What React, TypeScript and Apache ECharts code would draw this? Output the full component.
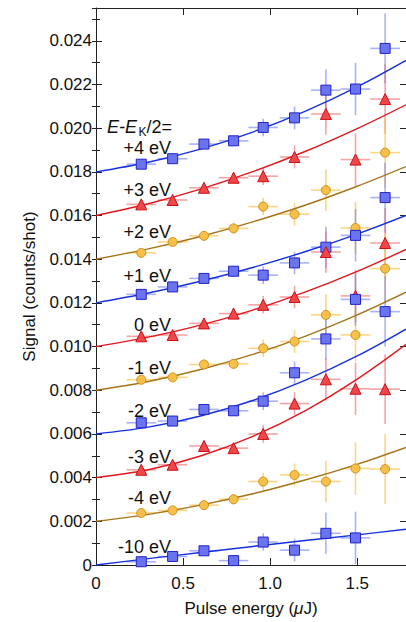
import React, { useEffect, useRef } from "react";
import * as echarts from "echarts";

const FONT = '"Liberation Sans", Arial, Helvetica, sans-serif';

// Pulse energy (µJ) of the measured points
const xPos = [0.26, 0.44, 0.62, 0.79, 0.96, 1.14, 1.32, 1.49, 1.66];
const xErr = 0.085;
// vertical error bars (×10⁻³ counts/shot)
const yErr = [0.12, 0.14, 0.18, 0.24, 0.4, 0.52, 0.95, 1.2, 1.6];

// Signal values (×10⁻³ counts/shot), offset traces
const sigP4 = [18.35, 18.6, 19.27, 19.42, 20.03, 20.47, 21.74, 21.79, 23.65];
const sigP3 = [16.51, 16.71, 17.27, 17.73, 17.8, 18.68, 20.65, 18.56, 21.33];
const sigP2 = [14.29, 14.79, 15.07, 15.41, 16.41, 16.06, 17.16, 15.43, 18.88];
const sigP1 = [12.39, 12.73, 13.12, 13.45, 13.27, 13.83, 14.55, 15.09, 16.82];
const sigZ0 = [10.47, 10.53, 11.06, 11.51, 11.91, 12.27, 14.33, 12.32, 14.74];
const sigM1 = [8.48, 8.59, 9.18, 9.21, 9.92, 10.23, 11.45, 10.53, 13.57];
const sigM2 = [6.51, 6.59, 7.12, 7.06, 7.5, 8.8, 10.35, 12.16, 11.6];
const sigM3 = [4.36, 4.59, 5.45, 5.35, 6.0, 7.39, 8.5, 8.07, 8.05];
const sigM4 = [2.38, 2.5, 2.74, 3.01, 3.82, 4.12, 3.82, 4.42, 4.39];
const sigM10 = [0.15, 0.39, 0.65, 0.2, 1.05, 0.68, 1.45, 1.24];

// Fit curves
const fitX = [0, 0.3, 0.6, 0.9, 1.2, 1.5, 1.78];
const fitP4 = [18.0, 18.44, 19.04, 19.82, 20.77, 21.89, 23.1];
const fitP3 = [16.0, 16.54, 17.21, 18.01, 18.93, 19.98, 21.07];
const fitP2 = [14.0, 14.47, 15.04, 15.71, 16.47, 17.34, 18.24];
const fitP1 = [12.0, 12.45, 12.99, 13.62, 14.34, 15.15, 16.0];
const fitZ0 = [10.0, 10.43, 10.98, 11.67, 12.49, 13.44, 14.45];
const fitM1 = [8.0, 8.4, 8.95, 9.64, 10.47, 11.45, 12.49];
const fitM2 = [6.0, 6.31, 6.82, 7.53, 8.45, 9.57, 10.8];
const fitM3 = [4.0, 4.36, 4.99, 5.89, 7.06, 8.51, 10.1];
const fitM4 = [2.0, 2.32, 2.74, 3.26, 3.89, 4.61, 5.38];
const fitM10 = [0, 0.29, 0.57, 0.85, 1.12, 1.38, 1.64];

const offsetLabels = ["+4 eV", "+3 eV", "+2 eV", "+1 eV", "0 eV", "-1 eV", "-2 eV", "-3 eV", "-4 eV", "-10 eV"];

const STYLES: Record<string, any> = {
  blue: { symbol: "rect", size: 10, fill: "#6a74ef", border: "#2222c8", line: "#1530e0", err: "rgba(100,115,240,0.55)" },
  red: { symbol: "triangle", size: 11, fill: "#f04848", border: "#c8101a", line: "#e3161c", err: "rgba(240,90,90,0.55)" },
  orange: { symbol: "circle", size: 9, fill: "#f7c04a", border: "#d0901a", line: "#a67417", err: "rgba(252,195,80,0.7)" },
};

const groups = [
  { y: sigP4, fit: fitP4, kind: "blue" },
  { y: sigP3, fit: fitP3, kind: "red" },
  { y: sigP2, fit: fitP2, kind: "orange" },
  { y: sigP1, fit: fitP1, kind: "blue" },
  { y: sigZ0, fit: fitZ0, kind: "red" },
  { y: sigM1, fit: fitM1, kind: "orange" },
  { y: sigM2, fit: fitM2, kind: "blue" },
  { y: sigM3, fit: fitM3, kind: "red" },
  { y: sigM4, fit: fitM4, kind: "orange" },
  { y: sigM10, fit: fitM10, kind: "blue" },
];

// layout of the annotation texts (pixel centres)
const labelCenters = [148, 190, 232, 276, 325, 368, 411, 457, 498, 547];
const labelRight = 171;

export default function App() {
  const ref = useRef<HTMLDivElement>(null);
  useEffect(() => {
    if (!ref.current) return;
    const chart = echarts.init(ref.current, null, { renderer: "svg" });
    const axisColor = "#222";
    const series: any[] = [];
    groups.forEach((g, gi) => {
      const st = STYLES[g.kind];
      series.push({
        type: "custom",
        name: "err" + gi,
        xAxisIndex: 0,
        yAxisIndex: 0,
        z: 1,
        silent: true,
        encode: { x: 0, y: 1 },
        data: g.y.map((v, i) => [xPos[i], v, xErr, yErr[i]]),
        renderItem: (params: any, api: any) => {
          const x = api.value(0), y = api.value(1), ex = api.value(2), ey = api.value(3);
          const a = api.coord([x - ex, y]);
          const b = api.coord([x + ex, y]);
          const c = api.coord([x, y - ey]);
          const d = api.coord([x, y + ey]);
          return {
            type: "group",
            children: [
              { type: "line", shape: { x1: a[0], y1: a[1], x2: b[0], y2: b[1] }, style: { stroke: st.err, lineWidth: 1.6 } },
              { type: "line", shape: { x1: c[0], y1: c[1], x2: d[0], y2: d[1] }, style: { stroke: st.err, lineWidth: 1.6 } },
            ],
          };
        },
      });
      series.push({
        type: "line",
        name: "fit" + gi,
        xAxisIndex: 0,
        yAxisIndex: 0,
        z: 2,
        silent: true,
        smooth: 0.35,
        showSymbol: false,
        symbol: "none",
        lineStyle: { color: st.line, width: 1.4 },
        data: fitX.map((x, i) => [x, g.fit[i]]),
      });
      series.push({
        type: "scatter",
        name: "pts" + gi,
        xAxisIndex: 0,
        yAxisIndex: 0,
        z: 3,
        symbol: st.symbol,
        symbolSize: st.size,
        itemStyle: { color: st.fill, borderColor: st.border, borderWidth: 1, opacity: 1 },
        data: g.y.map((v, i) => [xPos[i], v]),
      });
    });

    const baseY = {
      type: "value",
      min: 0,
      max: 25.5,
      splitLine: { show: false },
      axisLine: { show: true, onZero: false, lineStyle: { color: axisColor, width: 1 } },
    };
    const baseX = {
      type: "value",
      min: 0,
      max: 1.78,
      interval: 0.5,
      splitLine: { show: false },
      axisLine: { show: true, onZero: false, lineStyle: { color: axisColor, width: 1 } },
      axisTick: { show: true, inside: true, length: 7, lineStyle: { color: axisColor } },
    };

    const titleY = 127;
    const graphic: any[] = [
      {
        type: "text",
        x: 107,
        y: titleY,
        style: { text: "E-E", align: "left", verticalAlign: "middle", font: "italic 18px " + FONT, fill: "#111" },
      },
      {
        type: "text",
        x: 138.5,
        y: titleY + 5,
        style: { text: "K", align: "left", verticalAlign: "middle", font: "12px " + FONT, fill: "#111" },
      },
      {
        type: "text",
        x: labelRight + 1,
        y: titleY,
        style: { text: "/2=", align: "right", verticalAlign: "middle", font: "18px " + FONT, fill: "#111" },
      },
    ];
    offsetLabels.forEach((t, i) => {
      graphic.push({
        type: "text",
        x: labelRight,
        y: labelCenters[i],
        style: { text: t, align: "right", verticalAlign: "middle", font: "18px " + FONT, fill: "#111" },
      });
    });

    chart.setOption({
      animation: false,
      backgroundColor: "#fff",
      grid: { left: 96, right: 0, top: 8, bottom: 53, containLabel: false },
      xAxis: [
        {
          ...baseX,
          position: "bottom",
          axisLabel: {
            color: "#111",
            fontSize: 17,
            fontFamily: FONT,
            margin: 10,
            showMaxLabel: false,
            formatter: (v: number) => (v === 0 ? "0" : v.toFixed(1)),
          },
          name: "Pulse energy ({i|\u03bc}J)",
          nameLocation: "middle",
          nameGap: 35,
          nameTextStyle: {
            color: "#111",
            fontSize: 17,
            fontFamily: FONT,
            rich: { i: { fontStyle: "italic", fontSize: 17, fontFamily: FONT, color: "#111" } },
          },
        },
        { ...baseX, position: "top", axisLabel: { show: false } },
      ],
      yAxis: [
        {
          ...baseY,
          position: "left",
          interval: 2,
          axisTick: { show: true, inside: true, length: 6, lineStyle: { color: axisColor } },
          axisLabel: {
            color: "#111",
            fontSize: 17,
            fontFamily: FONT,
            margin: 4,
            showMaxLabel: false,
            formatter: (v: number) => (v === 0 ? "0" : (v / 1000).toFixed(3)),
          },
          name: "Signal (counts/shot)",
          nameLocation: "middle",
          nameGap: 58,
          nameRotate: 90,
          nameTextStyle: { color: "#111", fontSize: 17, fontFamily: FONT },
        },
        {
          ...baseY,
          position: "left",
          interval: 1,
          axisLine: { show: false },
          axisTick: { show: true, inside: true, length: 4, lineStyle: { color: axisColor } },
          axisLabel: { show: false },
        },
        {
          ...baseY,
          position: "right",
          interval: 2,
          axisTick: { show: true, inside: true, length: 6, lineStyle: { color: axisColor } },
          axisLabel: { show: false },
        },
        {
          ...baseY,
          position: "right",
          interval: 1,
          axisLine: { show: false },
          axisTick: { show: true, inside: true, length: 4, lineStyle: { color: axisColor } },
          axisLabel: { show: false },
        },
      ],
      series,
      graphic,
    });
    return () => chart.dispose();
  }, []);
  return <div ref={ref} style={{ position: "fixed", left: 0, top: 0, width: 406, height: 622 }} />;
}
